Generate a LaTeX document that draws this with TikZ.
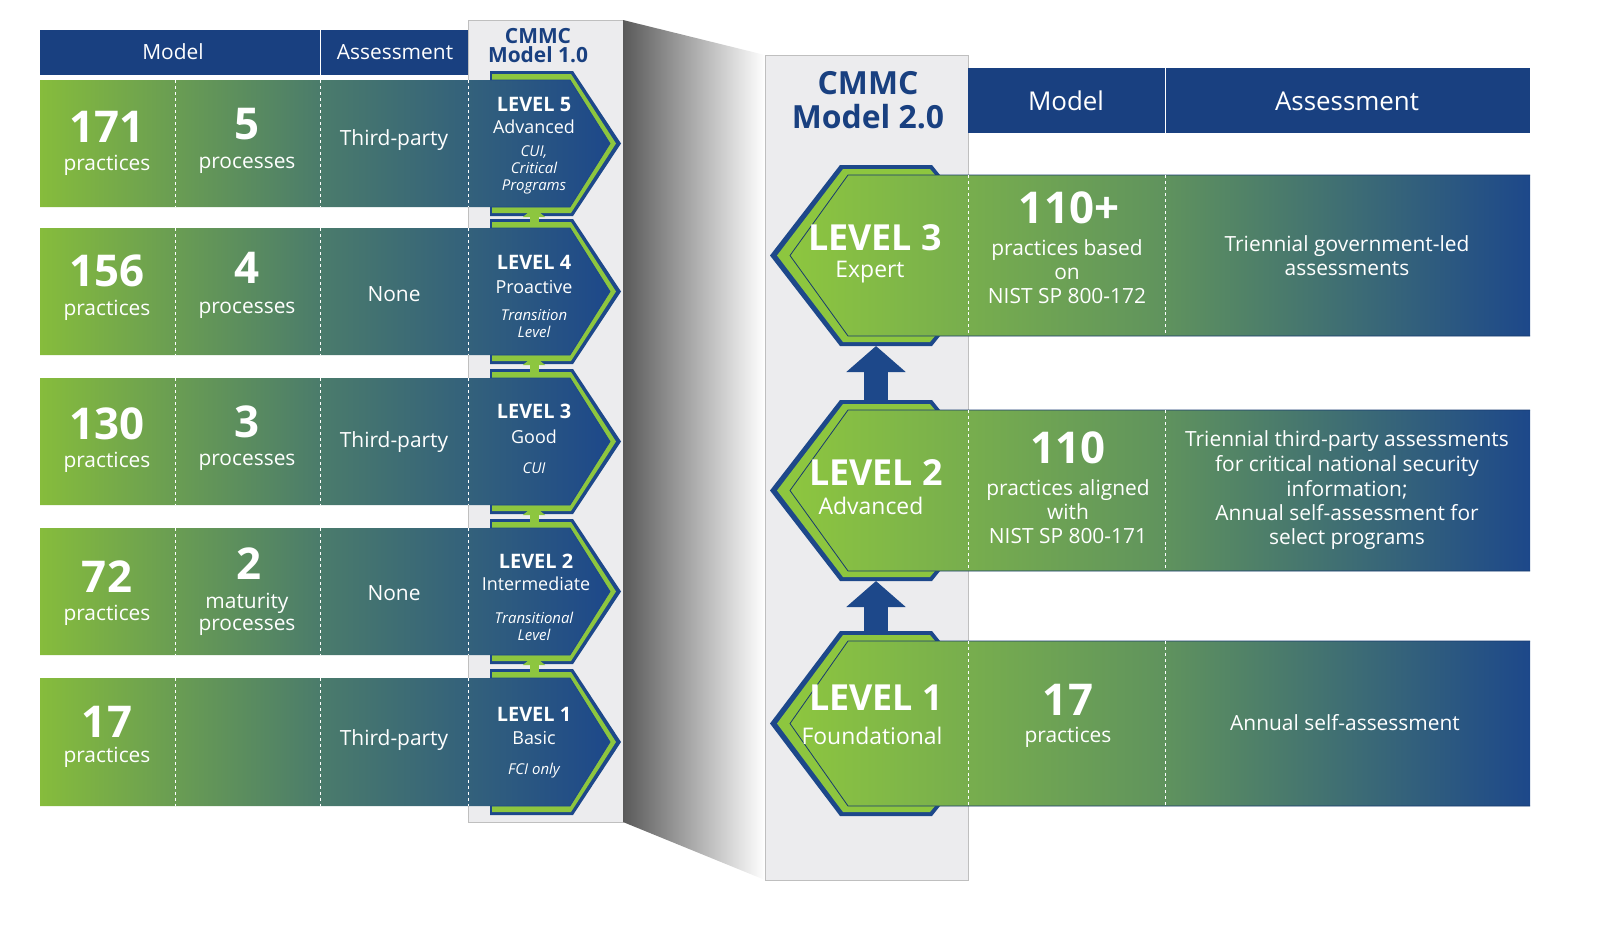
\documentclass[tikz,border=0pt]{standalone}
\usepackage{fontspec}
\setmainfont{Open Sans}
\usepackage{tikz}
\usetikzlibrary{arrows.meta, positioning, calc}
\definecolor{leaf}{RGB}{141,198,63}
\definecolor{navy}{RGB}{29,72,138}
\definecolor{headblue}{RGB}{25,64,128}
\definecolor{panel}{RGB}{236,236,238}
\newcommand{\fs}[1]{\fontsize{#1}{#1}\selectfont}

\begin{document}
\begin{tikzpicture}[x=1bp, y=-1bp,
    txt/.style={text=white, align=center, font=\fs{21}},
    big/.style={text=white, font=\fs{44}\bfseries},
    lvl/.style={text=white, font=\fs{20}\bfseries},
    sub/.style={text=white, font=\fs{18}},
    note/.style={text=white, font=\fs{15}\itshape, align=center},
    rlvl/.style={text=white, font=\fs{36}\bfseries},
    head/.style={text=white, font=\fs{21}},
    sep/.style={white, dashed, line width=1pt},
    uparrow/.style={-{Triangle[width=22bp,length=9bp]}, line width=9bp, leaf},
    bigup/.style={-{Triangle[width=58bp,length=26bp]}, line width=24bp, navy}
]
\useasboundingbox (0,0) rectangle (1608,925);
\clip (0,0) rectangle (1608,925);

% panels
\fill[panel] (468,20) rectangle (623,822);
\draw[gray!50] (468,20) rectangle (623,822);
\shade[left color=black!65, right color=white] (623,20) -- (765,55) -- (765,880) -- (623,822) -- cycle;
\fill[panel] (765,55) rectangle (968,880);
\draw[gray!50] (765,55) rectangle (968,880);
\node[text=headblue, font=\fs{21}\bfseries, align=center] (t1) at (538,46) {CMMC\\[-2pt]Model 1.0};
\node[text=headblue, font=\fs{32}\bfseries, align=center] (t2) at (868,100) {CMMC\\[2pt]Model 2.0};

% header bars
\fill[headblue] (40,30) rectangle (468,75);
\draw[white, line width=1pt] (320,30) -- (320,75);
\node[head] (hm1) at (173,52) {Model};
\node[head] (ha1) at (395,52) {Assessment};
\fill[headblue] (968,68) rectangle (1530,133);
\draw[white, line width=1pt] (1165,68) -- (1165,133);
\node[head, font=\fs{26}] (hm2) at (1066,101) {Model};
\node[head, font=\fs{26}] (ha2) at (1347,101) {Assessment};

% Model 1.0 rows
\foreach \t/\b [count=\i] in {80/207, 228/355, 378/505, 528/655, 678/806} {
  \pgfmathsetmacro{\m}{(\t+\b)/2}
  \fill[navy] (490,\t-9) -- (573,\t-9) -- (621,\m) -- (573,\b+9) -- (490,\b+9) -- cycle;
  \fill[leaf] (492,\t-6) -- (571,\t-6) -- (616,\m) -- (571,\b+6) -- (492,\b+6) -- cycle;
  \shade[left color=leaf!95!black, right color=navy, middle color=leaf!40!navy]
    (40,\t) -- (570,\t) -- (610,\m) -- (570,\b) -- (40,\b) -- cycle;
  \draw[navy, line width=0.8pt] (490,\t) -- (570,\t) -- (610,\m) -- (570,\b) -- (490,\b);
  \foreach \x in {175,320,468} \draw[sep] (\x,\t) -- (\x,\b);
  \coordinate (lb\i) at (534,\b+1);
  \coordinate (lt\i) at (534,\t-1);
}
\foreach \i/\j in {2/1, 3/2, 4/3, 5/4} \draw[uparrow] (lt\i) -- (lb\j);

% Model 2.0 rows
\foreach \t/\b [count=\i] in {175/336, 410/571, 641/806} {
  \pgfmathsetmacro{\m}{(\t+\b)/2}
  \fill[navy] (840,\t-10) -- (932,\t-10) -- (940,\t) -- (940,\b) -- (932,\b+10) -- (840,\b+10) -- (770,\m) -- cycle;
  \fill[leaf] (843,\t-6) -- (930,\t-6) -- (935,\t) -- (935,\b) -- (930,\b+6) -- (843,\b+6) -- (777,\m) -- cycle;
  \shade[left color=leaf, right color=navy, middle color=leaf!60!navy]
    (848,\t) -- (1530,\t) -- (1530,\b) -- (848,\b) -- (790,\m) -- cycle;
  \draw[navy!80!black, line width=0.8pt] (1530,\t) -- (848,\t) -- (790,\m) -- (848,\b) -- (1530,\b);
  \foreach \x in {968,1165} \draw[sep] (\x,\t) -- (\x,\b);
  \coordinate (rb\i) at (876,\b+10);
  \coordinate (rt\i) at (876,\t-10);
}
\draw[bigup] (rt2) -- (rb1);
\draw[bigup] (rt3) -- (rb2);

% Model 1.0 texts
\node[big] (n171) at (107,127) {171};
\node[txt] (p171) at (107,165) {practices};
\node[big] (n5) at (247,124) {5};
\node[txt] (q5) at (247,165) {processes};
\node[txt] (a5) at (394,140) {Third-party};
\node[lvl] (l5) at (534,104) {LEVEL 5};
\node[sub] (s5) at (534,127) {Advanced};
\node[note] (c5) at (534,170) {CUI,\\[2pt]Critical\\[2pt]Programs};

\node[big] (n156) at (107,271) {156};
\node[txt] (p156) at (107,310) {practices};
\node[big] (n4) at (247,268) {4};
\node[txt] (q4) at (247,310) {processes};
\node[txt] (a4) at (394,294) {None};
\node[lvl] (l4) at (534,262) {LEVEL 4};
\node[sub] (s4) at (534,287) {Proactive};
\node[note] (c4) at (534,324) {Transition\\[2pt]Level};

\node[big] (n130) at (107,424) {130};
\node[txt] (p130) at (107,462) {practices};
\node[big] (n3) at (247,422) {3};
\node[txt] (q3) at (247,462) {processes};
\node[txt] (a3) at (394,442) {Third-party};
\node[lvl] (l3) at (534,411) {LEVEL 3};
\node[sub] (s3) at (534,437) {Good};
\node[note] (c3) at (534,468) {CUI};

\node[big] (n72) at (107,577) {72};
\node[txt] (p72) at (107,615) {practices};
\node[big] (n2) at (249,564) {2};
\node[txt] (q2) at (247,614) {maturity\\[1pt]processes};
\node[txt] (a2) at (394,593) {None};
\node[lvl] (l2) at (536,561) {LEVEL 2};
\node[sub] (s2) at (536,584) {Intermediate};
\node[note] (c2) at (534,626) {Transitional\\[2pt]Level};

\node[big] (n17) at (107,722) {17};
\node[txt] (p17) at (107,757) {practices};
\node[txt] (a1) at (394,740) {Third-party};
\node[lvl] (l1) at (534,714) {LEVEL 1};
\node[sub] (s1) at (534,738) {Basic};
\node[note] (c1) at (534,771) {FCI only};

% Model 2.0 texts
\node[rlvl] (r3) at (875,238) {LEVEL 3};
\node[txt, font=\fs{23}] (e3) at (870,272) {Expert};
\node[big] (m3) at (1069,208) {110+};
\node[txt] (d3) at (1067,272) {practices based\\[3pt]on\\[3pt]NIST SP 800-172};
\node[txt] (x3) at (1347,256) {Triennial government-led\\[3pt]assessments};

\node[rlvl] (r2) at (876,473) {LEVEL 2};
\node[txt, font=\fs{23}] (e2) at (871,506) {Advanced};
\node[big] (m2) at (1068,448) {110};
\node[txt] (d2) at (1068,512) {practices aligned\\[3pt]with\\[3pt]NIST SP 800-171};
\node[txt] (x2) at (1347,490) {Triennial third-party assessments\\[3pt]for critical national security\\[3pt]information;\\[3pt]Annual self-assessment for\\[3pt]select programs};

\node[rlvl] (r1) at (876,698) {LEVEL 1};
\node[txt, font=\fs{23}] (e1) at (872,736) {Foundational};
\node[big] (m1) at (1068,700) {17};
\node[txt] (d1) at (1068,737) {practices};
\node[txt] (x1) at (1345,723) {Annual self-assessment};
\end{tikzpicture}
\end{document}
